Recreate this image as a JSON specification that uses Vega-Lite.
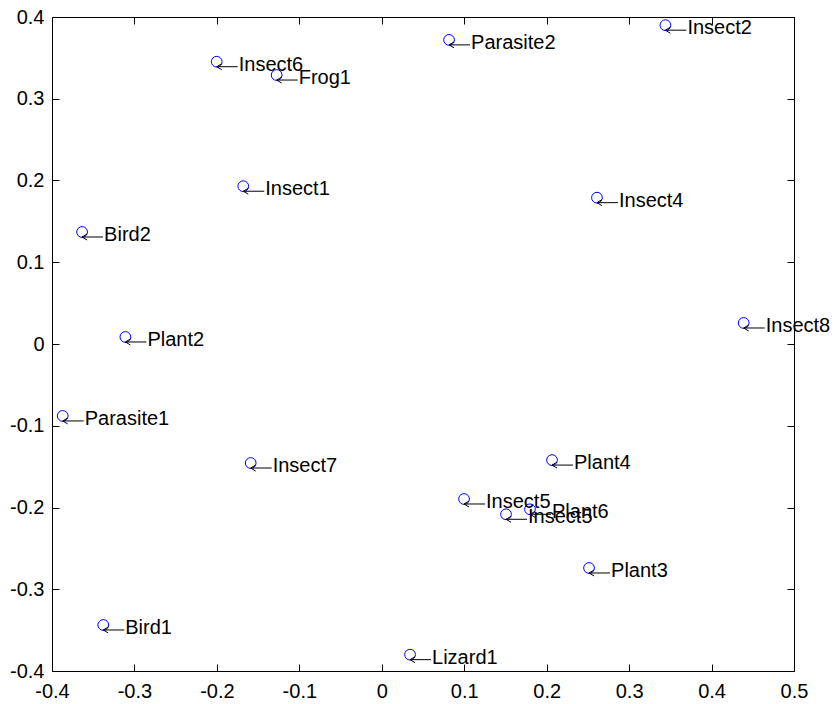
{
  "$schema": "https://vega.github.io/schema/vega-lite/v6.json",
  "width": 742,
  "height": 654,
  "autosize": "none",
  "padding": {"left": 52, "top": 17, "right": 40, "bottom": 33},
  "background": "white",
  "config": {
    "view": {"stroke": null},
    "axis": {
      "grid": false,
      "domainColor": "black",
      "domainWidth": 1,
      "tickColor": "black",
      "tickWidth": 1,
      "tickSize": -7,
      "labelColor": "black",
      "labelFont": "Liberation Sans",
      "labelFontSize": 20,
      "labelFlush": false,
      "labelOverlap": false,
      "labelBound": false
    }
  },
  "data": {
    "values": [
      {"name": "Insect2", "x": 0.344, "y": 0.390},
      {"name": "Parasite2", "x": 0.0816, "y": 0.372},
      {"name": "Insect6", "x": -0.2002, "y": 0.3453},
      {"name": "Frog1", "x": -0.1275, "y": 0.329},
      {"name": "Insect1", "x": -0.168, "y": 0.193},
      {"name": "Insect4", "x": 0.261, "y": 0.179},
      {"name": "Bird2", "x": -0.3635, "y": 0.137},
      {"name": "Plant2", "x": -0.311, "y": 0.0086},
      {"name": "Insect8", "x": 0.439, "y": 0.0257},
      {"name": "Parasite1", "x": -0.387, "y": -0.088},
      {"name": "Insect7", "x": -0.159, "y": -0.1456},
      {"name": "Plant4", "x": 0.2065, "y": -0.142},
      {"name": "Insect5", "x": 0.0998, "y": -0.1896},
      {"name": "Insect5", "x": 0.1507, "y": -0.2083},
      {"name": "Plant6", "x": 0.1798, "y": -0.2022},
      {"name": "Plant3", "x": 0.2514, "y": -0.274},
      {"name": "Bird1", "x": -0.3378, "y": -0.3437},
      {"name": "Lizard1", "x": 0.0343, "y": -0.380}
    ]
  },
  "layer": [
    {
      "mark": {"type": "point", "shape": "circle", "filled": false, "color": "#0000ff", "size": 115, "strokeWidth": 1, "opacity": 1},
      "encoding": {
        "x": {
          "field": "x", "type": "quantitative", "title": null,
          "scale": {"domain": [-0.4, 0.5], "nice": false, "zero": false},
          "axis": {"orient": "bottom", "values": [-0.4, -0.3, -0.2, -0.1, 0, 0.1, 0.2, 0.3, 0.4, 0.5], "labelPadding": 17, "labelExpr": "datum.value == 0 ? '0' : replace(format(datum.value, '.1f'), '−', '-')"}
        },
        "y": {
          "field": "y", "type": "quantitative", "title": null,
          "scale": {"domain": [-0.4, 0.4], "nice": false, "zero": false},
          "axis": {"orient": "left", "values": [-0.4, -0.3, -0.2, -0.1, 0, 0.1, 0.2, 0.3, 0.4], "labelPadding": 15, "labelExpr": "datum.value == 0 ? '0' : replace(format(datum.value, '.1f'), '−', '-')"}
        }
      }
    },
    {
      "mark": {"type": "text", "align": "left", "baseline": "middle", "font": "Liberation Sans", "fontSize": 20, "color": "black", "dx": 22, "dy": 3},
      "encoding": {
        "x": {
          "field": "x", "type": "quantitative", "title": null,
          "scale": {"domain": [-0.4, 0.5], "nice": false, "zero": false},
          "axis": {"orient": "top", "labels": false, "values": [-0.4, -0.3, -0.2, -0.1, 0, 0.1, 0.2, 0.3, 0.4, 0.5]}
        },
        "y": {
          "field": "y", "type": "quantitative", "title": null,
          "scale": {"domain": [-0.4, 0.4], "nice": false, "zero": false},
          "axis": {"orient": "right", "labels": false, "values": [-0.4, -0.3, -0.2, -0.1, 0, 0.1, 0.2, 0.3, 0.4]}
        },
        "text": {"field": "name", "type": "nominal"}
      }
    },
    {
      "mark": {"type": "point", "shape": "M0,0L21,0M0,0L5,-3M0,0L5,3", "filled": false, "color": "black", "size": 4, "strokeWidth": 1, "opacity": 1, "yOffset": 5},
      "encoding": {
        "x": {"field": "x", "type": "quantitative", "axis": null},
        "y": {"field": "y", "type": "quantitative", "axis": null}
      }
    }
  ],
  "resolve": {"axis": {"x": "independent", "y": "independent"}}
}
